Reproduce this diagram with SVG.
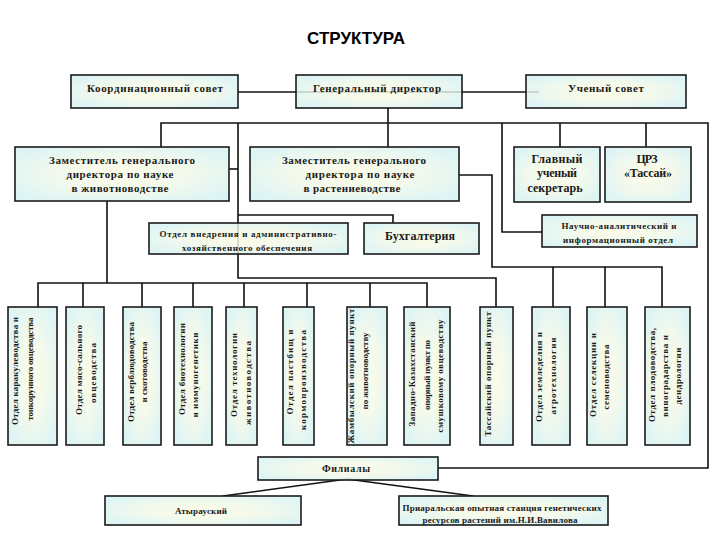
<svg xmlns="http://www.w3.org/2000/svg" width="728" height="546" viewBox="0 0 728 546">
<defs>
<radialGradient id="bf" cx="0.5" cy="0.5" r="0.6">
<stop offset="0" stop-color="#fbfbe2"/>
<stop offset="0.5" stop-color="#f0f8e8"/>
<stop offset="1" stop-color="#d6f2f2"/>
</radialGradient>
<style>
.b{fill:url(#bf);fill-opacity:0.82;stroke:#1b1b1b;stroke-width:1.6}
.c{fill:none;stroke:#111;stroke-width:1.6}
.t{font-family:"Liberation Serif","Times New Roman",serif;font-weight:bold;fill:#1a1a1a;text-anchor:middle}
.s9{font-size:9px}
.s10{font-size:10px}
.s11{font-size:11px}
.s12{font-size:12px}
</style>
</defs>
<rect width="728" height="546" fill="#fff"/>
<text x="356" y="44" font-family="'Liberation Sans',Arial,sans-serif" font-weight="bold" font-size="17" text-anchor="middle" fill="#000">СТРУКТУРА</text>

<g id="connectors">
<path class="c" d="M238 92H539"/>
<path class="c" d="M388 108V147"/>
<path class="c" d="M161 147V123H708V468H438"/>
<path class="c" d="M238 123V278H496V307"/>
<path class="c" d="M229 169H238"/>
<path class="c" d="M238 215H393V223"/>
<path class="c" d="M502 123V232H542"/>
<path class="c" d="M560 123V147M646 123V147"/>
<path class="c" d="M459 175H492V267H662V307M553 267V307M605 267V307"/>
<path class="c" d="M107 201V283M38 307V283H427V307M83 283V307M142 283V307M193 283V307M244 283V307M307 283V307M370 283V307"/>
<path class="c" d="M223 496L347 479L473 496"/>
</g>

<g id="coord"><rect class="b" x="71" y="75" width="167" height="33"/><text class="t s11" x="155" y="92" textLength="136">Координационный совет</text></g>
<g id="gendir"><rect class="b" x="296" y="75" width="166" height="33"/><text class="t s11" x="377" y="92" textLength="128">Генеральный директор</text></g>
<g id="uchsovet"><rect class="b" x="526" y="75" width="160" height="33"/><text class="t s11" x="606" y="92" textLength="76">Ученый совет</text></g>

<g id="dep1"><rect class="b" x="15" y="147" width="214" height="54"/>
<text class="t s11" x="122" y="164" textLength="146">Заместитель генерального</text>
<text class="t s11" x="120" y="178" textLength="107">директора по науке</text>
<text class="t s11" x="120" y="192" textLength="97">в животноводстве</text></g>
<g id="dep2"><rect class="b" x="250" y="147" width="209" height="54"/>
<text class="t s11" x="354" y="164" textLength="144">Заместитель генерального</text>
<text class="t s11" x="360" y="178" textLength="109">директора по науке</text>
<text class="t s11" x="352" y="192" textLength="97">в растениеводстве</text></g>
<g id="glavsec"><rect class="b" x="514" y="147" width="86" height="55"/>
<text class="t s12" x="557" y="163" textLength="51">Главный</text>
<text class="t s12" x="557" y="177" textLength="40">ученый</text>
<text class="t s12" x="555" y="192" textLength="55">секретарь</text></g>
<g id="crz"><rect class="b" x="605" y="147" width="86" height="55"/>
<text class="t s12" x="647" y="163" textLength="21">ЦРЗ</text>
<text class="t s12" x="648" y="177" textLength="48">«Тассай»</text></g>

<g id="vnedr"><rect class="b" x="149" y="223" width="199" height="31"/>
<text class="t s9" x="248" y="237" textLength="177">Отдел внедрения  и административно-</text>
<text class="t s9" x="247" y="251" textLength="130">хозяйственного обеспечения</text></g>
<g id="buh"><rect class="b" x="364" y="223" width="115" height="31"/><text class="t s12" x="420" y="240" textLength="70">Бухгалтерия</text></g>
<g id="nauch"><rect class="b" x="542" y="215" width="155" height="32"/>
<text class="t s9" x="619" y="229" textLength="115">Научно-аналитический и</text>
<text class="t s9" x="618" y="243" textLength="110">информационный отдел</text></g>

<g id="v1"><rect class="b" x="8" y="307" width="49" height="138"/>
<text class="t s9" transform="translate(15 371) rotate(-90)" y="3" textLength="108">Отдел каракулеводства  и</text>
<text class="t s9" transform="translate(30 369) rotate(-90)" y="3" textLength="103">тонкорунного овцеводства</text></g>
<g id="v2"><rect class="b" x="66" y="307" width="38" height="138"/>
<text class="t s9" transform="translate(79 370) rotate(-90)" y="3" textLength="90">Отдел  мясо-сального</text>
<text class="t s9" transform="translate(93 373) rotate(-90)" y="3" textLength="60">овцеводства</text></g>
<g id="v3"><rect class="b" x="123" y="307" width="38" height="138"/>
<text class="t s9" transform="translate(131 372) rotate(-90)" y="3" textLength="100">Отдел верблюдоводства</text>
<text class="t s9" transform="translate(144 372) rotate(-90)" y="3" textLength="61">и скотоводства</text></g>
<g id="v4"><rect class="b" x="174" y="307" width="38" height="138"/>
<text class="t s9" transform="translate(182 369) rotate(-90)" y="3" textLength="92">Отдел биотехнологии</text>
<text class="t s9" transform="translate(195 375) rotate(-90)" y="3" textLength="85">и иммуногенетики</text></g>
<g id="v5"><rect class="b" x="226" y="307" width="31" height="138"/>
<text class="t s9" transform="translate(234 375) rotate(-90)" y="3" textLength="84">Отдел технологии</text>
<text class="t s9" transform="translate(248 383) rotate(-90)" y="3" textLength="84">животноводства</text></g>
<g id="v6"><rect class="b" x="283" y="307" width="31" height="138"/>
<text class="t s9" transform="translate(290 372) rotate(-90)" y="3" textLength="85">Отдел пастбищ и</text>
<text class="t s9" transform="translate(303 380) rotate(-90)" y="3" textLength="100">кормопроизводства</text></g>
<g id="v7"><rect class="b" x="347" y="307" width="40" height="138"/>
<text class="t s9" transform="translate(351 376) rotate(-90)" y="3" textLength="135">Жамбылский  опорный пункт</text>
<text class="t s9" transform="translate(365 371) rotate(-90)" y="3" textLength="77">по животноводству</text></g>
<g id="v8"><rect class="b" x="404" y="307" width="46" height="138"/>
<text class="t s9" transform="translate(412 374) rotate(-90)" y="3" textLength="105">Западно-Казахстанский</text>
<text class="t s9" transform="translate(427 375) rotate(-90)" y="3" textLength="70">опорный пункт  по</text>
<text class="t s9" transform="translate(440 376) rotate(-90)" y="3" textLength="113">смушковому овцеводству</text></g>
<g id="v9"><rect class="b" x="480" y="307" width="33" height="138"/>
<text class="t s9" transform="translate(488 374) rotate(-90)" y="3" textLength="125">Тассайский опорный пункт</text></g>
<g id="v10"><rect class="b" x="532" y="307" width="38" height="138"/>
<text class="t s9" transform="translate(539 377) rotate(-90)" y="3" textLength="90">Отдел земледелия и</text>
<text class="t s9" transform="translate(553 376) rotate(-90)" y="3" textLength="77">агротехнологии</text></g>
<g id="v11"><rect class="b" x="587" y="307" width="40" height="138"/>
<text class="t s9" transform="translate(593 375) rotate(-90)" y="3" textLength="84">Отдел  селекции и</text>
<text class="t s9" transform="translate(606 377) rotate(-90)" y="3" textLength="65">семеноводства</text></g>
<g id="v12"><rect class="b" x="645" y="307" width="45" height="138"/>
<text class="t s9" transform="translate(652 375) rotate(-90)" y="3" textLength="94">Отдел плодоводства,</text>
<text class="t s9" transform="translate(665 376) rotate(-90)" y="3" textLength="82">виноградарства и</text>
<text class="t s9" transform="translate(678 376) rotate(-90)" y="3" textLength="57">дендрологии</text></g>

<g id="filialy"><rect class="b" x="258" y="457" width="180" height="23"/><text class="t s10" x="346" y="472" textLength="48">Филиалы</text></g>
<g id="atyrau"><rect class="b" x="105" y="496" width="196" height="29"/><text class="t s9" x="201" y="514" textLength="52">Атырауский</text></g>
<g id="priaral"><rect class="b" x="399" y="496" width="209" height="29"/>
<text class="t s9" x="502" y="511" textLength="199">Приаральская опытная станция генетических</text>
<text class="t s9" x="500" y="523" textLength="155">ресурсов растений им.Н.И.Вавилова</text></g>
</svg>
